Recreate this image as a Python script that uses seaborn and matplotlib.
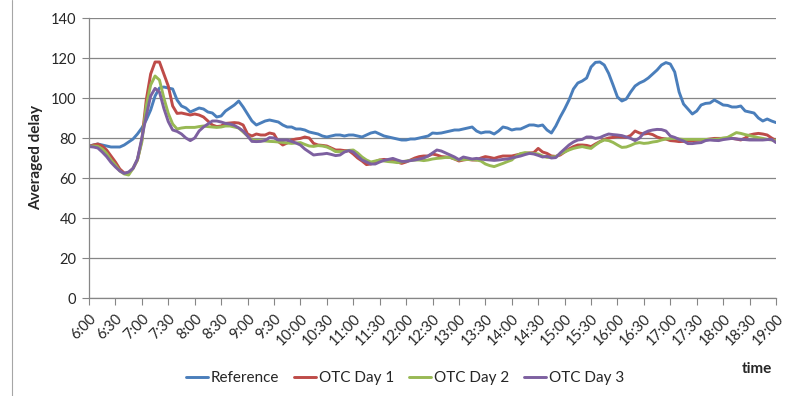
import numpy as np
import pandas as pd
import matplotlib
matplotlib.use("Agg")
import matplotlib.pyplot as plt
import seaborn as sns

# Averaged delay sampled every 5 minutes, 6:00 - 19:00
reference = [
    76, 76.5, 77, 76.5, 76, 75.5, 75.5, 75.5, 76.5, 78, 79.5, 82,
    85, 89, 94, 101, 105, 105.5, 105, 104.5, 99, 96, 95, 93,
    94, 95, 94.5, 93, 92.5, 90.5, 91, 93.5, 95, 96.5, 98.5, 95.5,
    92, 88.5, 86.5, 87.5, 88.5, 89, 88.5, 88, 86.5, 85.5, 85.5, 84.5,
    84.5, 84, 83, 82.5, 82, 81, 80.5, 81, 81.5, 81.5, 81, 81.5,
    81.5, 81, 80.5, 81.5, 82.5, 83, 82, 81, 80.5, 80, 79.5, 79,
    79, 79.5, 79.5, 80, 80.5, 81, 82.5, 82.3, 82.5, 83, 83.5, 84,
    84, 84.5, 85, 85.5, 83.5, 82.5, 83, 83, 82, 83.5, 85.5, 85,
    84, 84.5, 84.5, 85.5, 86.5, 86.5, 86, 86.5, 84, 82.5, 86, 90.5,
    94.5, 99, 104.5, 107.5, 108.5, 110, 115.5, 117.8, 118, 116.5, 112.3, 106.5,
    100.5, 98.5, 99.5, 103, 106, 107.5, 108.5, 110, 112, 114, 116.5, 117.7,
    117, 113, 103, 97, 94.5, 92, 93.5, 96.5, 97.3, 97.5, 99, 97.8,
    96.5, 96.3, 95.5, 95.5, 96, 93.5, 93, 92.5, 90, 88.5, 89.5, 88.5,
    87.7,
]
otc_day1 = [
    75.7, 76.5, 77, 76, 74, 71, 68, 64.5, 62.5, 62.5, 64.8, 69,
    79, 99, 112, 118, 118, 112, 106, 96, 92.3, 92.5, 92, 91.5,
    92, 91.5, 90.5, 88.5, 86.5, 85.7, 86, 87.3, 87.5, 87.7, 87.5, 86.5,
    82, 81, 82, 81.5, 81.5, 82.5, 82, 78.2, 76.5, 77.5, 79, 79.5,
    79.8, 80.5, 80, 77.3, 76.5, 76.3, 76, 75, 74, 74, 73.7, 73.7,
    72, 70, 68.5, 66.7, 67, 68.2, 69, 69.3, 69, 68.7, 68, 67.3,
    68, 69, 70, 70.7, 71, 71, 72, 71.5, 70.7, 70.5, 70.3, 69.5,
    68.5, 69, 69.3, 69, 69, 70, 70.7, 70.3, 69.8, 70.5, 71, 71,
    71, 71.5, 72, 72.3, 72.5, 72.7, 74.8, 73, 72.3, 71, 70.8, 71.5,
    73, 74.5, 75.7, 76.5, 76.5, 76.3, 75.7, 77, 78.2, 79.3, 80, 80.3,
    80.7, 80.5, 80.3, 81.3, 83.5, 82.5, 82, 82.3, 81.7, 80.5, 79.8, 79.5,
    78.7, 78.5, 78.2, 78.3, 78.5, 78.7, 78.8, 79, 79.2, 79.5, 79.8, 79.8,
    79.8, 79.8, 79.8, 79.5, 79, 80, 81.5, 82, 82.3, 82, 81.5, 80,
    78.7,
]
otc_day2 = [
    75.7, 76, 75.8, 74.5, 72.3, 69, 66.5, 63.5, 62, 61.5, 64.8, 69,
    78, 96, 106.5, 111, 109, 100, 92.3, 87, 84.5, 85, 85.3, 85.3,
    85.3, 85.7, 86, 85.7, 85.5, 85.3, 85.5, 86, 86, 85.5, 85, 83,
    81, 79, 78.8, 78.7, 78.5, 78.3, 78.2, 78, 77.8, 77.5, 77.3, 77.5,
    77.7, 76.8, 76, 75.8, 76.2, 76, 75.5, 74.5, 73.2, 73.2, 73.2, 73.8,
    74, 72.5, 70.5, 69, 68, 68.5, 69, 68.5, 68.2, 68, 67.7, 68,
    68.5, 68.8, 69, 69, 68.7, 69, 69.5, 69.8, 70, 70.3, 70.3, 69.5,
    69, 69.2, 69.3, 69.2, 69, 68.5, 67, 66.2, 65.7, 66.5, 67.3, 68.2,
    69, 71, 72.2, 72.7, 72.5, 72.3, 72, 71, 70.3, 70.5, 70.7, 72,
    73, 74, 74.8, 75.3, 75.7, 75.2, 74.8, 76.5, 78, 79, 78.7, 77.8,
    76.5, 75.3, 75.5, 76.3, 77.3, 77.7, 77.3, 77.5, 78, 78.3, 79, 79.5,
    79.7, 79.8, 79.5, 79.3, 79.3, 79.3, 79.3, 79.3, 79.3, 79.3, 79.3, 79.5,
    80, 80.3, 81.5, 82.7, 82.3, 81.7, 81.2, 80.7, 80.2, 79.8, 79.3, 79,
    78.7,
]
otc_day3 = [
    75.7, 75.5, 75, 73, 70.7, 67.8, 65.5, 63.5, 62.3, 63, 64.8, 69.5,
    80, 91, 101, 104.8, 103, 94.8, 88.2, 84, 83.3, 82, 80, 78.7,
    80, 83.5, 85.5, 87, 88.5, 88.5, 88, 87.3, 87, 86.3, 85, 83.5,
    81, 78.3, 78.2, 78.3, 78.8, 80.2, 80, 79, 79, 79, 78.3, 77.5,
    76.5, 74.5, 73, 71.5, 71.8, 72, 72.3, 71.8, 71.2, 71.5, 73, 73.7,
    73, 71, 69, 68, 67, 67, 68, 68.8, 69.3, 69.8, 69, 68.3,
    68.3, 68.7, 69, 69.5, 70, 71, 72.5, 74, 73.5, 72.5, 71.5, 70.5,
    69.2, 70.5, 70, 69.5, 69.8, 69.5, 69.2, 69, 68.8, 69, 69.3, 69.5,
    70, 70.5, 71, 71.7, 72.3, 72, 71.3, 70.5, 70.8, 70, 70.2, 72.5,
    74.5, 76.5, 78, 79, 79.3, 80.5, 80.5, 79.8, 80.2, 81.2, 82, 81.7,
    81.5, 81.2, 80.5, 79.8, 78.7, 80, 82.5, 83.5, 84, 84.3, 84.2, 83.5,
    81, 80.3, 79.3, 78.5, 77.2, 77.2, 77.5, 77.7, 78.7, 79, 78.8, 78.7,
    79.2, 79.5, 79.8, 79.5, 79.3, 79.2, 79, 79, 79, 79, 79.2, 79.3,
    77.7,
]

series_names = ["Reference", "OTC Day 1", "OTC Day 2", "OTC Day 3"]
series_values = [reference, otc_day1, otc_day2, otc_day3]
colors = ["#4A7EBB", "#BE4B48", "#98B954", "#7D60A0"]

# Sample times in minutes after midnight (every 5 min) and the half-hour tick labels
minutes = [360 + 5 * i for i in range(len(reference))]
tick_minutes = list(range(360, 19 * 60 + 1, 30))
tick_labels = [f"{m // 60}:{m % 60:02d}" for m in tick_minutes]

df = pd.concat(
    [pd.DataFrame({"minute": minutes, "delay": vals, "series": name})
     for name, vals in zip(series_names, series_values)],
    ignore_index=True,
)

sns.set_theme(style="white")
plt.rcParams["font.family"] = ["Lato", "DejaVu Sans"]

fig = plt.figure(figsize=(7.86, 3.96), dpi=100)
ax = fig.add_axes([89 / 786, 1 - 298 / 396, (776 - 89) / 786, (298 - 18) / 396])

sns.lineplot(
    data=df, x="minute", y="delay", hue="series",
    hue_order=series_names, palette=colors,
    linewidth=2.1, ax=ax, legend=False,
)

ax.set_xlim(360, 19 * 60)
ax.set_ylim(0, 140)
ax.set_yticks(range(0, 141, 20))
ax.set_xticks(tick_minutes)
ax.set_xticklabels(tick_labels, rotation=45, ha="right", va="top",
                   rotation_mode="anchor", fontsize=10.5)
ax.tick_params(axis="y", labelsize=10.5, length=5, width=0.8, color="#868686",
               direction="out", left=True, pad=4)
ax.tick_params(axis="x", length=5, width=0.8, color="#868686",
               direction="out", bottom=True, pad=5)

ax.grid(axis="y", color="#868686", linewidth=0.9)
ax.set_axisbelow(True)
for side in ("top", "right"):
    ax.spines[side].set_visible(False)
for side in ("left", "bottom"):
    ax.spines[side].set_color("#868686")
    ax.spines[side].set_linewidth(0.9)

ax.set_xlabel("")
ax.set_ylabel("Averaged delay", fontsize=11, fontweight="bold", labelpad=6)
fig.text(757 / 786, 1 - 369 / 396, "time", fontsize=11, fontweight="bold",
         ha="center", va="center")

# Left edge of the chart area frame
fig.add_artist(plt.Line2D([12 / 786, 12 / 786], [0, 1], color="#A6A6A6",
                          linewidth=0.8, transform=fig.transFigure))

handles = [plt.Line2D([], [], color=c, linewidth=2.1) for c in colors]
fig.legend(handles, series_names, loc="center", bbox_to_anchor=(405 / 786, 1 - 378 / 396),
           ncol=4, frameon=False, fontsize=11, handlelength=1.45, handletextpad=0.15,
           columnspacing=1.0)

fig.savefig("out.png", dpi=100)
